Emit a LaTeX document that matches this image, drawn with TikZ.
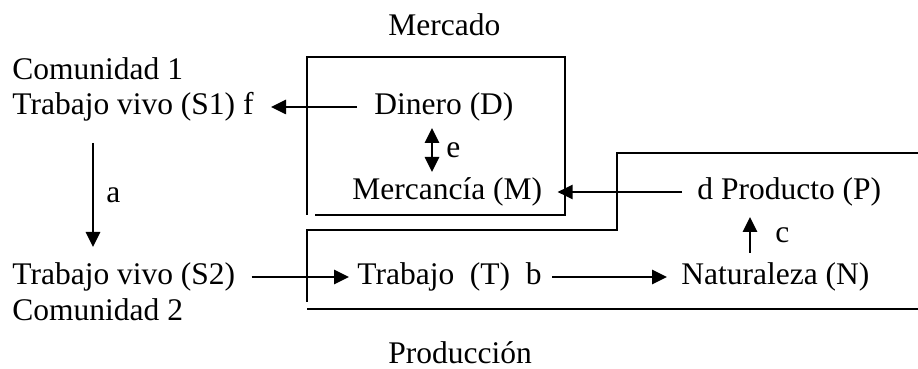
\documentclass[tikz,border=0pt]{standalone}
\usepackage{fontspec}
\setmainfont{Liberation Serif}
\usetikzlibrary{arrows.meta,positioning}
\tikzset{
market/.style={x=0.5pt,y=-0.5pt,>={Triangle[length=7.5pt,width=7pt]}},
term/.style={inner sep=0pt,text height=11.8pt,text depth=3.9pt,
font=\fontsize{15.75}{19}\selectfont},
letter/.style={inner sep=0pt,font=\fontsize{15.75}{19}\selectfont},
frame/.style={line width=0.85pt},
flow/.style={line width=1.3pt},
gap/.style={shorten <=#1,shorten >=#1},
gap/.default={7pt},
}

\begin{document}
\begin{tikzpicture}[market]
\useasboundingbox (0,0) rectangle (918,369);
\node[term,anchor=west] (com1) at (12,72) {Comunidad 1};
\node[term,anchor=west] (s1) at (12,107) {Trabajo vivo (S1) f};
\node[term,anchor=west] (s2) at (12,277) {Trabajo vivo (S2)};
\node[term,anchor=west] (com2) at (12,313) {Comunidad 2};
\node[term,anchor=west] (mercado) at (388,28) {Mercado};
\node[term,anchor=west] (dinero) at (374,107) {Dinero (D)};
\node[term,anchor=west] (mercancia) at (352,192) {Mercancía (M)};
\node[term,anchor=west] (producto) at (697,192) {d Producto (P)};
\node[term,anchor=west] (trabajo) at (357,277) {Trabajo~~(T)~~b};
\node[term,anchor=west] (naturaleza) at (681,277) {Naturaleza (N)};
\node[term,anchor=west] (produccion) at (388,356) {Producción};

% los dos recuadros
\draw[frame] (307,215) -- (307,57) -- (565,57) -- (565,215) -- (315,215);
\draw[frame] (918,153) -- (617,153) -- (617,230) -- (307,230) -- (307,302);
\draw[frame] (307,309) -- (918,309);

\path[->,flow] (dinero) edge[gap=8.5pt] (s1)
               (producto) edge[gap=7.5pt] (mercancia)
               (s2) edge[shorten <=8pt,shorten >=4pt] (trabajo)
               (trabajo) edge[shorten <=5pt,shorten >=7pt] (naturaleza);

\coordinate (a top) at (93,143);
\coordinate (a tip) at (93,247);
\coordinate (e top) at (432,128);
\coordinate (e tip) at (432,172);
\coordinate (c tail) at (750,253);
\coordinate (c tip) at (750,217);
\path[->,flow] (a top) edge node[letter,right=6pt] (lbl a) {a} (a tip)
               (c tail) edge node[letter,right=12pt] (lbl c) {c} (c tip);
\path[<->,flow] (e top) edge node[letter,right=6.5pt] (lbl e) {e} (e tip);
%\draw[help lines] (0,0) grid[step=50] (918,369);
\end{tikzpicture}
\end{document}
